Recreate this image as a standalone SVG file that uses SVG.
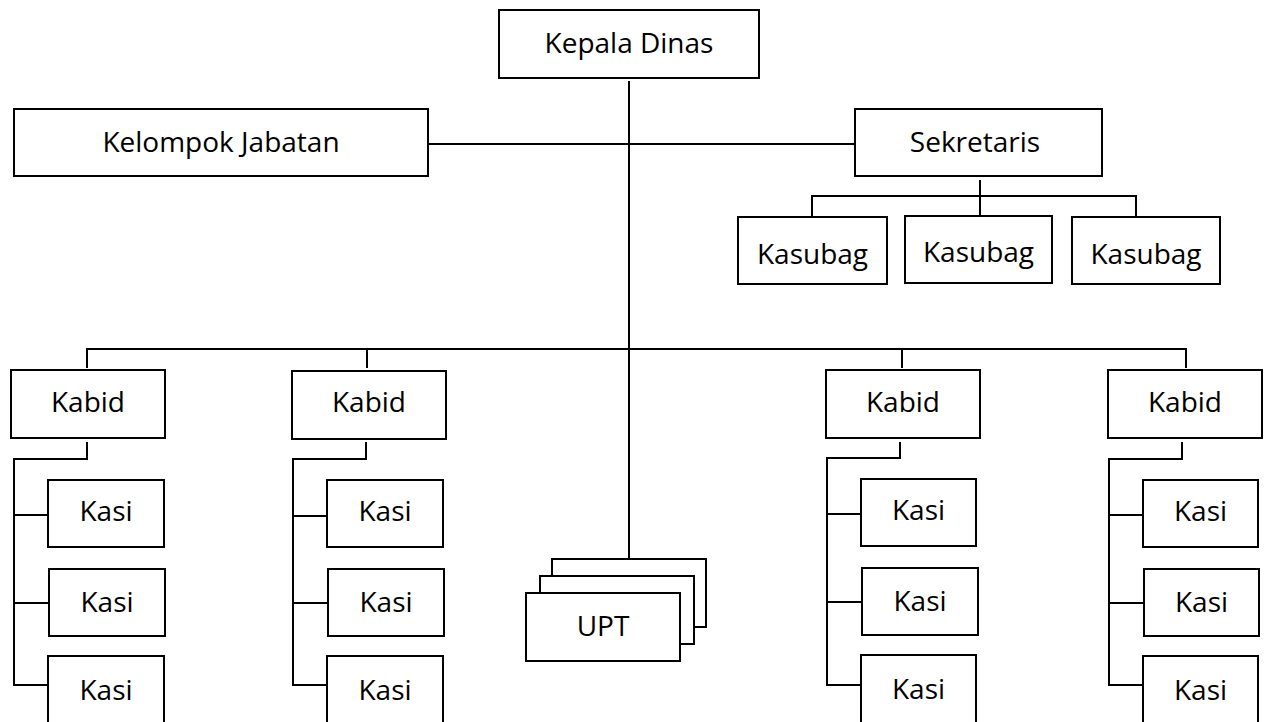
<svg xmlns="http://www.w3.org/2000/svg" width="1264" height="722" viewBox="0 0 1264 722">
<style>
.b{fill:#fff;stroke:#000;stroke-width:2}
.t{font-family:"Open Sans","Noto Sans",sans-serif;font-size:28px;fill:#000;text-anchor:middle}
.c{fill:none;stroke:#000;stroke-width:2}
</style>
<rect width="1264" height="722" fill="#fff"/>
<g id="connectors" class="c">
<path d="M629 81V559"/>
<path d="M428 144H855"/>
<path d="M980 180V217M812 217V196H1136V217"/>
<path d="M87 368V349H1186V368M367 349V368M902 349V368"/>
<path d="M87 442V459H14V685H48M14 515H48M14 603H49"/>
<path d="M366 442V459H293V685H327M293 516H327M293 603H328"/>
<path d="M900 442V458H827V685H861M827 514H861M827 602H862"/>
<path d="M1182 442V459H1109V685H1143M1109 515H1143M1109 603H1144"/>
</g>
<g id="kepala-dinas"><rect class="b" x="499" y="10" width="260" height="68"/><text class="t" x="629" y="53">Kepala Dinas</text></g>
<g id="kelompok-jabatan"><rect class="b" x="14" y="109" width="414" height="67"/><text class="t" x="221" y="152">Kelompok Jabatan</text></g>
<g id="sekretaris"><rect class="b" x="855" y="109" width="247" height="67"/><text class="t" x="975" y="152">Sekretaris</text></g>
<g id="kasubag-1"><rect class="b" x="738" y="217" width="149" height="67"/><text class="t" x="812.5" y="264">Kasubag</text></g>
<g id="kasubag-2"><rect class="b" x="905" y="216" width="147" height="67"/><text class="t" x="978.5" y="262">Kasubag</text></g>
<g id="kasubag-3"><rect class="b" x="1072" y="217" width="148" height="67"/><text class="t" x="1146" y="264">Kasubag</text></g>
<g id="kabid-1"><rect class="b" x="11" y="370" width="154" height="68"/><text class="t" x="88" y="412">Kabid</text></g>
<g id="kabid-2"><rect class="b" x="292" y="371" width="154" height="68"/><text class="t" x="369" y="412">Kabid</text></g>
<g id="kabid-3"><rect class="b" x="826" y="370" width="154" height="68"/><text class="t" x="903" y="412">Kabid</text></g>
<g id="kabid-4"><rect class="b" x="1108" y="370" width="154" height="68"/><text class="t" x="1185" y="412">Kabid</text></g>
<g id="kasi-1-1"><rect class="b" x="48" y="480" width="116" height="67"/><text class="t" x="106" y="521">Kasi</text></g>
<g id="kasi-1-2"><rect class="b" x="49" y="569" width="116" height="67"/><text class="t" x="107" y="612">Kasi</text></g>
<g id="kasi-1-3"><rect class="b" x="48" y="656" width="116" height="90"/><text class="t" x="106" y="700">Kasi</text></g>
<g id="kasi-2-1"><rect class="b" x="327" y="480" width="116" height="67"/><text class="t" x="385" y="521">Kasi</text></g>
<g id="kasi-2-2"><rect class="b" x="328" y="569" width="116" height="67"/><text class="t" x="386" y="612">Kasi</text></g>
<g id="kasi-2-3"><rect class="b" x="327" y="656" width="116" height="90"/><text class="t" x="385" y="700">Kasi</text></g>
<g id="kasi-3-1"><rect class="b" x="861" y="479" width="115" height="67"/><text class="t" x="918.5" y="520">Kasi</text></g>
<g id="kasi-3-2"><rect class="b" x="862" y="568" width="116" height="67"/><text class="t" x="920" y="611">Kasi</text></g>
<g id="kasi-3-3"><rect class="b" x="861" y="655" width="115" height="90"/><text class="t" x="918.5" y="699">Kasi</text></g>
<g id="kasi-4-1"><rect class="b" x="1143" y="480" width="115" height="67"/><text class="t" x="1200.5" y="521">Kasi</text></g>
<g id="kasi-4-2"><rect class="b" x="1144" y="569" width="115" height="67"/><text class="t" x="1201.5" y="612">Kasi</text></g>
<g id="kasi-4-3"><rect class="b" x="1143" y="656" width="115" height="90"/><text class="t" x="1200.5" y="700">Kasi</text></g>
<g id="upt"><rect class="b" x="552" y="559" width="154" height="68"/><rect class="b" x="540" y="576" width="154" height="68"/><rect class="b" x="526" y="593" width="154" height="68"/><text class="t" x="603" y="636">UPT</text></g>
</svg>
